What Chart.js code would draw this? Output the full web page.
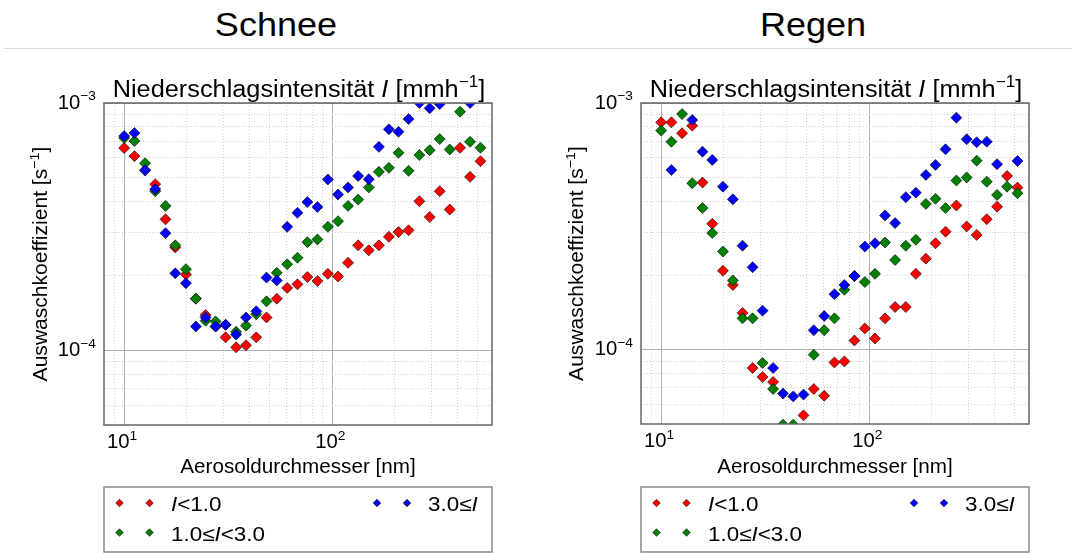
<!DOCTYPE html>
<html>
<head>
<meta charset="utf-8">
<script src="https://cdn.jsdelivr.net/npm/chart.js@4.4.1/dist/chart.umd.min.js"></script>
<style>
  body { margin: 0; background: #fff; font-family: "Liberation Sans", Arial, sans-serif; }
  #wrap { position: relative; width: 1072px; height: 554px; overflow: hidden; }
  .hd { position: absolute; top: 5px; width: 536px; text-align: center; font-size: 34px; color: #000; transform: scaleX(1.06); }
  #rule { position: absolute; left: 4px; right: 0; top: 48px; height: 1px; background: #dcdcdc; }
  canvas { position: absolute; top: 0; }
</style>
</head>
<body>
<div id="wrap">
  <div class="hd" style="left:8px">Schnee</div>
  <div class="hd" style="left:545px">Regen</div>
  <div id="rule"></div>
  <canvas id="snow" width="536" height="554" style="left:0"></canvas>
  <canvas id="rain" width="536" height="554" style="left:536px"></canvas>
</div>
<script>
// Auswaschkoeffizient vs. Aerosoldurchmesser, Schnee / Regen

const DIAMETERS = [10.0, 11.2, 12.6, 14.1, 15.8, 17.6, 19.8, 22.1, 24.6, 27.5, 30.7, 34.5, 38.5, 43.1, 48.3, 54.1, 60.7, 68.0,
  75.9, 84.8, 95.2, 106.5, 119, 133, 149.7, 167.4, 187, 208, 232.5, 262, 293.7, 328, 366.5, 411, 459, 515];

// Schnee
const SNOW_LOW = [6.58e-4, 6.10e-4, 5.35e-4, 4.70e-4, 3.39e-4, 2.61e-4, 2.03e-4, 1.62e-4, 1.39e-4, 1.25e-4, 1.13e-4, 1.03e-4,
  1.05e-4, 1.13e-4, 1.36e-4, 1.62e-4, 1.79e-4, 1.85e-4, 1.98e-4, 1.91e-4, 2.04e-4, 1.99e-4, 2.26e-4, 2.66e-4, 2.54e-4, 2.66e-4,
  2.88e-4, 3.01e-4, 3.06e-4, 4.01e-4, 3.46e-4, 4.40e-4, 3.71e-4, 6.59e-4, 5.03e-4, 5.82e-4];
const SNOW_MID = [7.22e-4, 7.02e-4, 5.71e-4, 4.40e-4, 3.84e-4, 2.66e-4, 2.13e-4, 1.62e-4, 1.32e-4, 1.31e-4, 1.27e-4, 1.19e-4,
  1.26e-4, 1.40e-4, 1.58e-4, 2.06e-4, 2.23e-4, 2.37e-4, 2.74e-4, 2.81e-4, 3.16e-4, 3.33e-4, 3.84e-4, 4.07e-4, 4.56e-4, 5.27e-4,
  5.47e-4, 6.29e-4, 5.32e-4, 6.16e-4, 6.45e-4, 7.15e-4, 6.49e-4, 9.22e-4, 6.97e-4, 6.59e-4];
const SNOW_HIGH = [7.35e-4, 7.56e-4, 5.35e-4, 4.49e-4, 2.98e-4, 2.05e-4, 1.87e-4, 1.25e-4, 1.36e-4, 1.25e-4, 1.27e-4, 1.16e-4,
  1.36e-4, 1.44e-4, 1.97e-4, 1.92e-4, 3.16e-4, 3.60e-4, 3.98e-4, 3.80e-4, 4.91e-4, 4.27e-4, 4.56e-4, 5.07e-4, 4.92e-4, 6.65e-4,
  7.83e-4, 7.65e-4, 8.61e-4, 1.0e-3, 9.52e-4, 9.9e-4, null, null, 1.0e-3, null];

// Regen
const RAIN_LOW = [8.35e-4, 8.35e-4, 7.54e-4, 8.09e-4, 4.76e-4, 3.24e-4, 2.09e-4, 1.83e-4, 1.41e-4, 0.843e-4, 0.775e-4, 0.740e-4,
  null, null, 0.542e-4, 0.693e-4, 0.651e-4, 0.888e-4, 0.897e-4, 1.09e-4, 1.22e-4, 1.11e-4, 1.34e-4, 1.49e-4, 1.49e-4, 2.03e-4,
  2.34e-4, 2.70e-4, 3.01e-4, 3.84e-4, 3.16e-4, 2.92e-4, 3.38e-4, 3.80e-4, 5.06e-4, 4.54e-4];
const RAIN_MID = [7.73e-4, 6.97e-4, 9.02e-4, 4.73e-4, 3.75e-4, 2.97e-4, 2.50e-4, 1.91e-4, 1.34e-4, 1.34e-4, 0.884e-4, 0.693e-4,
  0.497e-4, 0.497e-4, null, 0.954e-4, 1.20e-4, 1.34e-4, 1.75e-4, 1.99e-4, 1.88e-4, 2.03e-4, 2.72e-4, 2.31e-4, 2.64e-4, 2.79e-4,
  3.90e-4, 4.09e-4, 3.75e-4, 4.85e-4, 4.99e-4, 5.84e-4, 4.80e-4, 4.24e-4, 4.58e-4, 4.31e-4];
const RAIN_HIGH = [null, 5.35e-4, null, 8.54e-4, 6.35e-4, 5.88e-4, 4.58e-4, 4.07e-4, 2.64e-4, 2.16e-4, 1.44e-4, 0.843e-4,
  0.664e-4, 0.647e-4, 0.658e-4, 1.20e-4, 1.37e-4, 1.68e-4, 1.83e-4, 1.99e-4, 2.62e-4, 2.70e-4, 3.50e-4, 3.26e-4, 4.15e-4, 4.33e-4,
  5.11e-4, 5.61e-4, 6.49e-4, 8.72e-4, 7.13e-4, 6.93e-4, 6.97e-4, 5.65e-4, null, 5.82e-4];

const X_GRID = [9, 10, 20, 30, 40, 50, 60, 70, 80, 90, 100, 200, 300, 400, 500];
const Y_GRID = [6e-5, 7e-5, 8e-5, 9e-5, 1e-4, 2e-4, 3e-4, 4e-4, 5e-4, 6e-4, 7e-4, 8e-4, 9e-4, 1e-3];
const X_TICK_LABELS = [{ value: 10, exp: '1' }, { value: 100, exp: '2' }];
const Y_TICK_LABELS = [{ value: 1e-3, exp: '−3' }, { value: 1e-4, exp: '−4' }];

const COLORS = ['#ff0000', '#008000', '#0000ff'];
const FONT = '"Liberation Sans", Arial, sans-serif';
const SX = 1.08; // reference text runs a bit wider than Liberation Sans

Chart.defaults.font.family = FONT;
Chart.defaults.color = '#000';

function isDecade(v) {
  const l = Math.log10(v);
  return Math.abs(l - Math.round(l)) < 1e-9;
}

function toPoints(values) {
  return DIAMETERS.map((d, i) => ({ x: d, y: values[i] })).filter(p => p.y != null);
}

// text with italic / superscript pieces
function drawRich(ctx, parts, x, y, size, align, opt = {}) {
  const sx = opt.sx || SX;
  const supSize = size * 0.68, supRise = size * 0.42;
  const items = parts.map(([t, s]) => {
    ctx.font = (s === 'i' ? 'italic ' : '') + (s === 'sup' ? supSize : size) + 'px ' + FONT;
    return { t, s, font: ctx.font, w: ctx.measureText(t).width };
  });
  const total = items.reduce((a, b) => a + b.w, 0);
  let cx = align === 'center' ? -total / 2 : align === 'right' ? -total : 0;
  ctx.save();
  ctx.translate(x, y);
  if (opt.rot) ctx.rotate(opt.rot);
  ctx.scale(sx, 1);
  ctx.textAlign = 'left';
  ctx.textBaseline = 'alphabetic';
  ctx.fillStyle = '#000';
  items.forEach(it => {
    ctx.font = it.font;
    ctx.fillText(it.t, cx, it.s === 'sup' ? -supRise : 0);
    cx += it.w;
  });
  ctx.restore();
}

function diamond(ctx, x, y, r, color) {
  ctx.beginPath();
  ctx.moveTo(x, y - r);
  ctx.lineTo(x + r, y);
  ctx.lineTo(x, y + r);
  ctx.lineTo(x - r, y);
  ctx.closePath();
  ctx.fillStyle = color;
  ctx.fill();
  ctx.lineWidth = 0.6;
  ctx.strokeStyle = '#000';
  ctx.stroke();
}

const LEGEND_ROWS = [
  { color: COLORS[0], parts: [['I', 'i'], ['<1.0', 'n']], col: 0, row: 0 },
  { color: COLORS[1], parts: [['1.0≤', 'n'], ['I', 'i'], ['<3.0', 'n']], col: 0, row: 1 },
  { color: COLORS[2], parts: [['3.0≤', 'n'], ['I', 'i']], col: 1, row: 0 },
];

const panelDeco = {
  id: 'panelDeco',
  afterDraw(chart) {
    const { ctx, chartArea: a, scales } = chart;
    ctx.save();
    // axes frame
    ctx.strokeStyle = '#666';
    ctx.lineWidth = 1.5;
    ctx.strokeRect(a.left, a.top, a.right - a.left, a.bottom - a.top);

    // tick labels
    X_TICK_LABELS.forEach(t => {
      drawRich(ctx, [['10', 'n'], [t.exp, 'sup']], scales.x.getPixelForValue(t.value) - 2, a.bottom + 23, 19.5, 'center', { sx: 1.04 });
    });
    Y_TICK_LABELS.forEach(t => {
      drawRich(ctx, [['10', 'n'], [t.exp, 'sup']], a.left - 8, scales.y.getPixelForValue(t.value) + 5.5, 19.5, 'right', { sx: 1.04 });
    });

    // axis titles
    drawRich(ctx, [['Aerosoldurchmesser [nm]', 'n']], (a.left + a.right) / 2, 473, 19.5, 'center', { sx: 1.06 });
    drawRich(ctx, [['Auswaschkoeffizient [s', 'n'], ['−1', 'sup'], [']', 'n']], 47, (a.top + a.bottom) / 2, 19.5, 'center',
      { sx: 1.08, rot: -Math.PI / 2 });

    // panel title
    drawRich(ctx, [['Niederschlagsintensität ', 'n'], ['I', 'i'], [' [mmh', 'n'], ['−1', 'sup'], [']', 'n']],
      (a.left + a.right) / 2 + 1, 97, 23, 'center', { sx: 1.1 });

    // legend box
    const top = 487, bottom = 552;
    ctx.strokeStyle = '#888';
    ctx.lineWidth = 1.5;
    ctx.strokeRect(a.left, top, a.right - a.left, bottom - top);
    LEGEND_ROWS.forEach(e => {
      const bx = a.left + (e.col ? 273 : 15.5);
      const cy = top + 16 + e.row * 29.5;
      diamond(ctx, bx, cy, 3.8, e.color);
      diamond(ctx, bx + 30, cy, 3.8, e.color);
      drawRich(ctx, e.parts, bx + (e.col ? 51 : 51.5), cy + 8, 20, 'left', { sx: 1.12 });
    });
    ctx.restore();
  }
};

function dataset(values, idx) {
  return {
    data: toPoints(values),
    order: 2 - idx,
    pointStyle: 'rectRot',
    pointRadius: 5.5,
    pointHoverRadius: 5.5,
    backgroundColor: COLORS[idx],
    borderColor: '#000',
    borderWidth: 0.6,
    clip: 0,
  };
}

function gridOpts() {
  return {
    drawTicks: false,
    lineWidth: 1,
    color: c => (c.tick && isDecade(c.tick.value)) ? '#b0b0b0' : '#d0d0d0',
  };
}
function borderOpts() {
  return {
    display: false,
    dash: c => (c.tick && isDecade(c.tick.value)) ? [] : [1, 2],
  };
}

function makeChart(id, low, mid, high, axisWidth, padRight, padBottom) {
  return new Chart(document.getElementById(id), {
    type: 'scatter',
    data: { datasets: [dataset(low, 0), dataset(mid, 1), dataset(high, 2)] },
    options: {
      responsive: false,
      animation: false,
      events: [],
      layout: { padding: { left: 0, top: 103, right: padRight, bottom: padBottom } },
      plugins: { legend: { display: false }, tooltip: { enabled: false } },
      scales: {
        x: {
          type: 'logarithmic',
          position: 'bottom',
          min: 8,
          max: 585,
          afterBuildTicks: s => { s.ticks = X_GRID.map(v => ({ value: v, major: isDecade(v) })); },
          afterFit: s => { s.height = 60; },
          ticks: { display: false, autoSkip: false },
          grid: gridOpts(),
          border: borderOpts(),
        },
        y: {
          type: 'logarithmic',
          position: 'left',
          min: 5e-5,
          max: 1e-3,
          afterBuildTicks: s => { s.ticks = Y_GRID.map(v => ({ value: v, major: isDecade(v) })); },
          afterFit: s => { s.width = axisWidth; },
          ticks: { display: false, autoSkip: false },
          grid: gridOpts(),
          border: borderOpts(),
        },
      },
    },
    plugins: [panelDeco],
  });
}

makeChart('snow', SNOW_LOW, SNOW_MID, SNOW_HIGH, 104, 44, 69);
makeChart('rain', RAIN_LOW, RAIN_MID, RAIN_HIGH, 105, 43, 70);
</script>
</body>
</html>
